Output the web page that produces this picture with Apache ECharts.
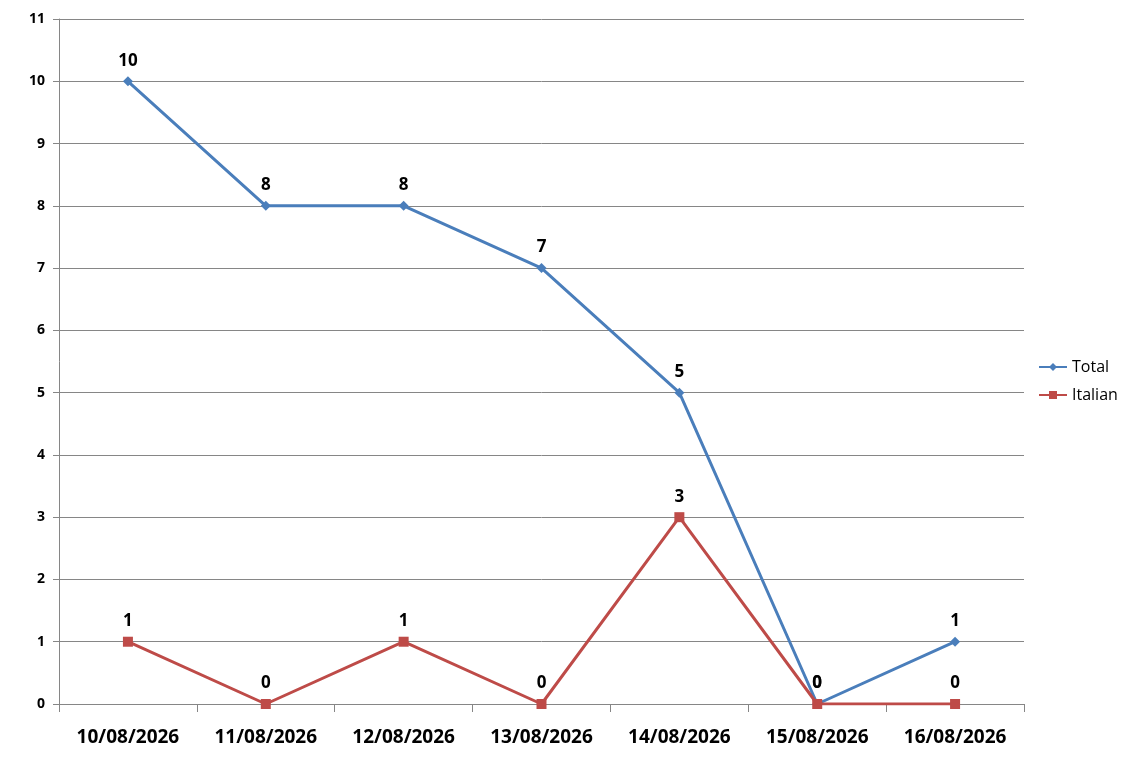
<!DOCTYPE html>
<html><head><meta charset="utf-8">
<script src="https://cdn.jsdelivr.net/npm/echarts@6/dist/echarts.min.js"></script>
<style>html,body{margin:0;padding:0;background:#fff}#c{width:1136px;height:764px}</style>
</head><body><div id="c"></div>
<script>
const categories = ['10/08/2026','11/08/2026','12/08/2026','13/08/2026','14/08/2026','15/08/2026','16/08/2026'];
const totalValues = [10, 8, 8, 7, 5, 0, 1];
const italianValues = [1, 0, 1, 0, 3, 0, 0];
const yTicks = [0,1,2,3,4,5,6,7,8,9,10,11];

const chart = echarts.init(document.getElementById('c'));
const font = '"Open Sans", "DejaVu Sans", sans-serif';
chart.setOption({
  animation: false,
  textStyle: { fontFamily: font },
  grid: { left: 59, right: 112, top: 19, bottom: 60 },
  legend: {
    orient: 'vertical', left: 1033, top: 354, itemGap: 12,
    itemWidth: 28, itemHeight: 10,
    textStyle: { fontFamily: font, fontSize: 16, color: '#000' },
    data: ['Total', 'Italian']
  },
  xAxis: {
    type: 'category', data: categories, boundaryGap: true,
    axisLine: { lineStyle: { color: '#868686', width: 1 } },
    axisTick: { show: true, length: 8, lineStyle: { color: '#868686' } },
    axisLabel: { fontFamily: font, fontSize: 19, fontWeight: 'bold', color: '#000', margin: 24 }
  },
  yAxis: {
    type: 'value', min: yTicks[0], max: yTicks[yTicks.length-1], interval: 1,
    axisLine: { show: true, lineStyle: { color: '#868686' } },
    axisTick: { show: true, length: 6, lineStyle: { color: '#868686' } },
    splitLine: { lineStyle: { color: '#868686', width: 1 } },
    axisLabel: { fontFamily: font, fontSize: 14, fontWeight: 'bold', color: '#000', margin: 14 }
  },
  series: [
    {
      name: 'Total', type: 'line', data: totalValues,
      symbol: 'diamond', symbolSize: 10,
      lineStyle: { color: '#4A7EBB', width: 3 },
      itemStyle: { color: '#4A7EBB' },
      label: { show: true, position: 'top', distance: 7, fontFamily: font, fontSize: 17, fontWeight: 'bold', color: '#000' }
    },
    {
      name: 'Italian', type: 'line', data: italianValues,
      symbol: 'rect', symbolSize: 10,
      lineStyle: { color: '#BE4B48', width: 3 },
      itemStyle: { color: '#BE4B48' },
      label: { show: true, position: 'top', distance: 7, fontFamily: font, fontSize: 17, fontWeight: 'bold', color: '#000' }
    }
  ]
});
</script></body></html>
